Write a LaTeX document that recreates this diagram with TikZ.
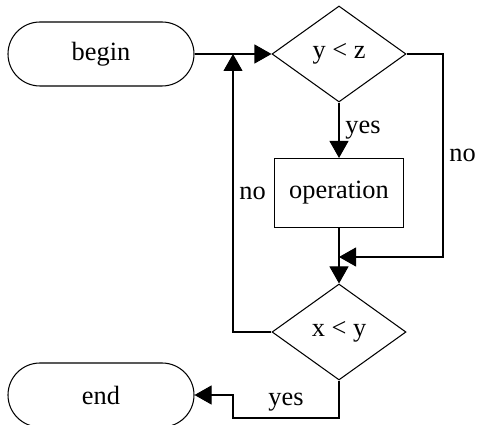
\documentclass[tikz,border=0pt]{standalone}
\usepackage{fontspec}
\setmainfont{Liberation Serif}
\usepackage{tikz}
\usetikzlibrary{arrows.meta, shapes.geometric, positioning}
\tikzset{
>={Triangle[length=0.34cm,width=0.38cm]}, % big filled arrow heads
every node/.style={font=\fontsize{15}{18}\selectfont}, % text size of all labels
every path/.style={line width=0.6pt},
terminal/.style={draw, rectangle, rounded corners=0.64cm, minimum width=3.72cm, minimum height=1.28cm}, % begin and end
decision/.style={draw, diamond, inner sep=0pt, minimum width=2.68cm, minimum height=1.92cm}, % the tests
process/.style={draw, rectangle, minimum width=2.58cm, minimum height=1.38cm}, % the operation box
}

\begin{document}
\begin{tikzpicture}
        \useasboundingbox (0,0) rectangle (9.54,-8.5);

        \node[terminal] (begin) at (2.02,-1.08) {begin};
        \node[decision] (yltz) at (6.78,-1.08) {y < z};
        \node[process] (op) at (6.78,-3.86) {operation};
        \node[decision] (xlty) at (6.78,-6.64) {x < y};
        \node[terminal] (end) at (2.02,-7.9) {end};

        \coordinate (merge) at (4.66,-1.08);
        \coordinate (join) at (6.78,-5.14);
        \coordinate (rt) at (8.86,-1.08);

        \draw[->] (begin) -- (yltz);
        \draw[->] (yltz) -- node[right]{yes} (op);
        \draw (op) -- (join);
        \draw[->] (join) -- (xlty);
        \draw[->] (yltz.east) -- (rt) |- node[pos=0.25, right]{no} (join);
        \draw[->] (xlty.west) -| node[pos=0.75, right]{no} (merge);
        \draw[->] (xlty.south) |- node[pos=0.75, above]{yes} (4.66,-8.36) |- (end.east);
    \end{tikzpicture}
\end{document}
